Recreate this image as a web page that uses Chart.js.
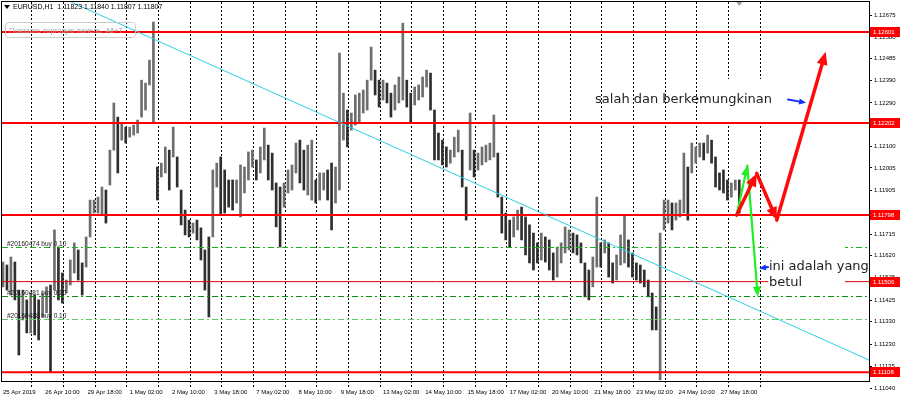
<!DOCTYPE html>
<html>
<head>
<meta charset="utf-8">
<script src="https://cdn.jsdelivr.net/npm/chart.js@4.4.0/dist/chart.umd.min.js"></script>
<style>
  html, body { margin: 0; padding: 0; background: #fff; }
  #myChart { display: block; }
</style>
</head>
<body>
<canvas id="myChart" width="900" height="406"></canvas>
<script>
// --------------------------- DATA ---------------------------

// EURUSD H1, one range per 3 hours starting 25 Apr 2019 02:00
const highs = [
  1.11592, 1.11579, 1.11614, 1.11592, 1.11469, 1.11469, 1.11426, 1.11456, 1.11447, 1.11426,
  1.11456, 1.11483, 1.11491, 1.11733, 1.11658, 1.11544, 1.11513, 1.11601, 1.11676, 1.11645,
  1.11588, 1.11702, 1.11864, 1.11864, 1.11877, 1.11921, 1.11908, 1.12083, 1.12290, 1.12228,
  1.12202, 1.12184, 1.12184, 1.12193, 1.12215, 1.12390, 1.12377, 1.12478, 1.12645, 1.12009,
  1.12026, 1.12097, 1.12083, 1.12184, 1.12053, 1.11908, 1.11820, 1.11776, 1.11763, 1.11776,
  1.11742, 1.11645, 1.11702, 1.11996, 1.12026, 1.12053, 1.11996, 1.11952, 1.11952, 1.11952,
  1.12018, 1.12009, 1.12075, 1.12083, 1.12040, 1.12097, 1.12180, 1.12105, 1.12070, 1.11939,
  1.11921, 1.11939, 1.11996, 1.12018, 1.12114, 1.12127, 1.12083, 1.12105, 1.12127, 1.11952,
  1.11983, 1.11983, 1.11996, 1.12026, 1.12009, 1.12509, 1.12333, 1.12259, 1.12246, 1.12325,
  1.12333, 1.12347, 1.12390, 1.12535, 1.12434, 1.12390, 1.12390, 1.12377, 1.12333, 1.12369,
  1.12404, 1.12640, 1.12390, 1.12333, 1.12360, 1.12369, 1.12404, 1.12434, 1.12421, 1.12259,
  1.12158, 1.12127, 1.12097, 1.12083, 1.12140, 1.12171, 1.12083, 1.11921, 1.12246, 1.12083,
  1.12070, 1.12097, 1.12105, 1.12114, 1.12237, 1.12070, 1.11877, 1.11807, 1.11776, 1.11790,
  1.11820, 1.11833, 1.11790, 1.11755, 1.11719, 1.11676, 1.11719, 1.11702, 1.11689, 1.11632,
  1.11658, 1.11676, 1.11746, 1.11733, 1.11719, 1.11711, 1.11676, 1.11588, 1.11557, 1.11614,
  1.11877, 1.11676, 1.11689, 1.11676, 1.11588, 1.11623, 1.11711, 1.11798, 1.11689, 1.11632,
  1.11588, 1.11579, 1.11557, 1.11513, 1.11456, 1.11395, 1.11719, 1.11864, 1.11864, 1.11851,
  1.11851, 1.11864, 1.12070, 1.12009, 1.12114, 1.12097, 1.12114, 1.12114, 1.12149, 1.12127,
  1.12053, 1.11983, 1.11996, 1.11952, 1.11939, 1.11952, 1.11952
];
const lows = [
  1.11483, 1.11469, 1.11447, 1.11426, 1.11184, 1.11338, 1.11281, 1.11281, 1.11272, 1.11250,
  1.11351, 1.11369, 1.11110, 1.11469, 1.11426, 1.11412, 1.11456, 1.11491, 1.11544, 1.11513,
  1.11447, 1.11570, 1.11702, 1.11807, 1.11807, 1.11798, 1.11763, 1.11930, 1.12083, 1.11983,
  1.12127, 1.12114, 1.12140, 1.12149, 1.12158, 1.12228, 1.12259, 1.12369, 1.12202, 1.11864,
  1.11965, 1.11983, 1.11908, 1.12053, 1.11921, 1.11755, 1.11711, 1.11702, 1.11719, 1.11689,
  1.11601, 1.11469, 1.11351, 1.11702, 1.11921, 1.11798, 1.11807, 1.11833, 1.11820, 1.11851,
  1.11790, 1.11895, 1.11952, 1.12009, 1.11952, 1.11983, 1.12040, 1.11952, 1.11908, 1.11746,
  1.11658, 1.11833, 1.11895, 1.11908, 1.11983, 1.11939, 1.11908, 1.11886, 1.11864, 1.11851,
  1.11864, 1.11908, 1.11864, 1.11733, 1.11851, 1.11908, 1.12127, 1.12097, 1.12171, 1.12193,
  1.12202, 1.12246, 1.12259, 1.12390, 1.12325, 1.12272, 1.12303, 1.12290, 1.12228, 1.12259,
  1.12290, 1.12303, 1.12272, 1.12202, 1.12281, 1.12303, 1.12316, 1.12360, 1.12259, 1.12040,
  1.12040, 1.12018, 1.12009, 1.12026, 1.12053, 1.12075, 1.11921, 1.11776, 1.11996, 1.11965,
  1.11996, 1.12018, 1.12031, 1.12040, 1.12053, 1.11877, 1.11719, 1.11689, 1.11658, 1.11702,
  1.11733, 1.11689, 1.11623, 1.11588, 1.11557, 1.11588, 1.11601, 1.11592, 1.11557, 1.11513,
  1.11526, 1.11588, 1.11632, 1.11645, 1.11632, 1.11623, 1.11588, 1.11439, 1.11426, 1.11483,
  1.11570, 1.11570, 1.11632, 1.11526, 1.11500, 1.11513, 1.11579, 1.11588, 1.11570, 1.11526,
  1.11513, 1.11500, 1.11483, 1.11439, 1.11294, 1.11294, 1.11075, 1.11733, 1.11763, 1.11733,
  1.11776, 1.11790, 1.11807, 1.11776, 1.11983, 1.12026, 1.12053, 1.12040, 1.12070, 1.12026,
  1.11921, 1.11908, 1.11895, 1.11864, 1.11877, 1.11908, 1.11807
];
const HOURS_PER_RANGE = 3;

// time axis labels, one every 32 hourly bars
const dateLabels = [
  '25 Apr 2019', '26 Apr 10:00', '29 Apr 18:00', '1 May 02:00', '2 May 10:00', '3 May 18:00',
  '7 May 02:00', '8 May 10:00', '9 May 18:00', '13 May 02:00', '14 May 10:00', '15 May 18:00',
  '17 May 02:00', '20 May 10:00', '21 May 18:00', '23 May 02:00', '24 May 10:00', '27 May 18:00'
];
const LABEL_EVERY = 32;

// price scale labels
const priceTicks = [
  1.12675, 1.12580, 1.12485, 1.12390, 1.12290, 1.12195, 1.12100, 1.12005, 1.11905,
  1.11810, 1.11715, 1.11620, 1.11525, 1.11425, 1.11330, 1.11230, 1.11135
];
const lowestPriceLabel = 1.11040;

// horizontal levels (red) and open orders (green)
const levels = [1.12601, 1.12202, 1.11798, 1.11506, 1.11108];
const orderPrices = [1.11658, 1.11443, 1.11342];
const orderTexts = ['#20160474 buy 0.10', '#20160481 buy 0.10', '#20160488 buy 0.10'];

// trend line, [bar, price]
const trend = [[48.5, 1.12741], [656.3, 1.11162]];

// drawn arrows, [bar, price]
const redPath = [[556.0, 1.11798], [571.2, 1.11981], [586.4, 1.11776], [623.5, 1.12515]];
const greenPath = [[556.0, 1.11798], [564.1, 1.12015], [572.0, 1.11440]];
const bluePointers = [
  [[594.9, 1.12305], [608.6, 1.12291]],
  [[579.8, 1.11570], [573.0, 1.11564]]
];

// text notes, [bar, price]
const notes = [
  { text: 'salah dan berkemungkinan', at: [448.7, 1.12303] },
  { text: 'ini adalah yang', at: [580.5, 1.11570] },
  { text: 'betul', at: [580.5, 1.11500] }
];
const noteBoxes = [
  [[527.5, 1.12395], [587.3, 1.12215]],
  [[579.8, 1.11676], [638.1, 1.11469]]
];

const header = 'EURUSD,H1  1.11823 1.11840 1.11807 1.11807';
const panelHint = 'Показать торговую панель, Alt+T';

// --------------------------- CHART RELATED ---------------------------

const SMALL = "'Liberation Sans', Arial, sans-serif";
const NOTE_FONT = "'DejaVu Sans', Verdana, sans-serif";

const rangeData = highs.map((h, i) => ({ x: i * HOURS_PER_RANGE, y: [lows[i], h] }));
const rangeColors = highs.map((h, i) => {
  if (i === 0) return '#6e6e6e';
  const mid = (h + lows[i]) / 2, prev = (highs[i - 1] + lows[i - 1]) / 2;
  return mid < prev ? '#2e2e2e' : '#6e6e6e';
});

const labelTicks = dateLabels.map((t, i) => i * LABEL_EVERY);
const gridTicks = [];
for (let k = 1; k <= 24; k++) gridTicks.push(k * 24 - 2.27);
const isGridValue = (v) => !labelTicks.includes(v);

function arrow(ctx, x1, y1, x2, y2, color, width, head) {
  const a = Math.atan2(y2 - y1, x2 - x1);
  const c = Math.cos(a), s = Math.sin(a);
  ctx.strokeStyle = color;
  ctx.fillStyle = color;
  ctx.lineWidth = width;
  ctx.lineCap = 'round';
  ctx.beginPath();
  ctx.moveTo(x1, y1);
  ctx.lineTo(x2 - c * head * 0.7, y2 - s * head * 0.7);
  ctx.stroke();
  ctx.beginPath();
  ctx.moveTo(x2, y2);
  ctx.lineTo(x2 - head * c + head * 0.42 * s, y2 - head * s - head * 0.42 * c);
  ctx.lineTo(x2 - head * c - head * 0.42 * s, y2 - head * s + head * 0.42 * c);
  ctx.closePath();
  ctx.fill();
}

const overlay = {
  id: 'overlay',
  afterDatasetsDraw(chart) {
    const { ctx, chartArea: a, scales: { x, y } } = chart;
    const px = (p) => [x.getPixelForValue(p[0]), y.getPixelForValue(p[1])];
    ctx.save();
    ctx.beginPath();
    ctx.rect(a.left, a.top, a.right - a.left, a.bottom - a.top);
    ctx.clip();

    // order lines
    const orderColors = ['#19b019', '#0c8a0c', '#5ccc5c'];
    orderPrices.forEach((p, i) => {
      const yy = Math.round(y.getPixelForValue(p)) + 0.5;
      ctx.strokeStyle = orderColors[i];
      ctx.lineWidth = 1;
      ctx.setLineDash([6, 3, 2, 3]);
      ctx.beginPath();
      ctx.moveTo(a.left, yy);
      ctx.lineTo(a.right, yy);
      ctx.stroke();
      ctx.setLineDash([]);
      ctx.fillStyle = '#1a1a1a';
      ctx.font = '6.5px ' + SMALL;
      ctx.textBaseline = 'bottom';
      ctx.textAlign = 'left';
      ctx.fillText(orderTexts[i], 7, yy);
    });

    // levels
    levels.forEach((p) => {
      const yy = y.getPixelForValue(p);
      ctx.strokeStyle = p === 1.11506 ? '#e00000' : '#ff0000';
      ctx.lineWidth = p === 1.11506 ? 1 : 2;
      ctx.beginPath();
      ctx.moveTo(a.left, yy);
      ctx.lineTo(a.right, yy);
      ctx.stroke();
    });

    // trend line
    const t0 = px(trend[0]), t1 = px(trend[1]);
    ctx.strokeStyle = '#2ccfe0';
    ctx.lineWidth = 1;
    ctx.beginPath();
    ctx.moveTo(t0[0], t0[1]);
    ctx.lineTo(t1[0], t1[1]);
    ctx.stroke();

    // white boxes behind notes
    ctx.fillStyle = '#fff';
    noteBoxes.forEach((b) => {
      const p0 = px(b[0]), p1 = px(b[1]);
      ctx.fillRect(p0[0], p0[1], p1[0] - p0[0], p1[1] - p0[1]);
    });

    // arrows
    for (let i = 1; i < greenPath.length; i++) {
      const p0 = px(greenPath[i - 1]), p1 = px(greenPath[i]);
      arrow(ctx, p0[0], p0[1], p1[0], p1[1], '#22ee22', 2.2, 10);
    }
    for (let i = 1; i < redPath.length; i++) {
      const p0 = px(redPath[i - 1]), p1 = px(redPath[i]);
      arrow(ctx, p0[0], p0[1], p1[0], p1[1], '#ff0a0a', 3.5, 13);
    }
    bluePointers.forEach((b) => {
      const p0 = px(b[0]), p1 = px(b[1]);
      arrow(ctx, p0[0], p0[1], p1[0], p1[1], '#1030ff', 2, 7);
    });

    // notes
    ctx.fillStyle = '#222';
    ctx.font = '13px ' + NOTE_FONT;
    ctx.textBaseline = 'middle';
    ctx.textAlign = 'left';
    notes.forEach((n) => {
      const p = px(n.at);
      ctx.fillText(n.text, p[0], p[1]);
    });
    ctx.restore();
  },
  afterDraw(chart) {
    const { ctx, chartArea: a, scales: { x, y } } = chart;
    ctx.save();
    // frame
    ctx.strokeStyle = '#000';
    ctx.lineWidth = 1;
    ctx.strokeRect(Math.round(a.left) - 0.5, Math.round(a.top) - 0.5,
      Math.round(a.right - a.left) + 1, Math.round(a.bottom - a.top) + 1);

    // level labels on the price scale
    ctx.font = '6px ' + SMALL;
    ctx.textBaseline = 'middle';
    ctx.textAlign = 'left';
    levels.forEach((p) => {
      const yy = Math.round(y.getPixelForValue(p));
      ctx.fillStyle = '#ff0000';
      ctx.fillRect(a.right + 1, yy - 5, chart.width - a.right - 1, 10);
      ctx.fillStyle = '#fff';
      ctx.fillText(p.toFixed(5), a.right + 4, yy + 0.5);
    });

    // lowest price label sits below the plot
    const yl = y.getPixelForValue(lowestPriceLabel);
    ctx.fillStyle = '#000';
    ctx.fillRect(a.right + 1, Math.round(yl), 2, 1);
    ctx.fillText(lowestPriceLabel.toFixed(5), a.right + 5, yl + 0.5);

    // header
    ctx.beginPath();
    ctx.moveTo(4, 5); ctx.lineTo(10, 5); ctx.lineTo(7, 9); ctx.closePath();
    ctx.fill();
    ctx.font = '7px ' + SMALL;
    ctx.textBaseline = 'middle';
    ctx.fillText(header, 13, 7.5);

    // shift marker
    const sx = x.getPixelForValue((highs.length - 1) * HOURS_PER_RANGE);
    ctx.fillStyle = '#a0a0a0';
    ctx.beginPath();
    ctx.moveTo(sx - 3, 2); ctx.lineTo(sx + 3, 2); ctx.lineTo(sx, 6); ctx.closePath();
    ctx.fill();

    // faded trade panel hint
    ctx.strokeStyle = '#cccccc';
    ctx.lineWidth = 1;
    ctx.beginPath();
    ctx.roundRect(5.5, 22.5, 130, 15, 3);
    ctx.stroke();
    ctx.fillStyle = '#a6a6a6';
    ctx.font = '7.5px ' + SMALL;
    ctx.fillText(panelHint, 9, 30.5);
    ctx.restore();
  }
};

let ctx = document.querySelector('#myChart');
let myChart = new Chart(ctx, {
  type: 'bar',
  data: {
    datasets: [{
      data: rangeData,
      backgroundColor: rangeColors,
      barThickness: 2,
      grouped: false
    }]
  },
  options: {
    responsive: false,
    animation: false,
    devicePixelRatio: 1,
    layout: { padding: { left: 2, top: 2, right: 0, bottom: 0 } },
    plugins: { legend: { display: false }, tooltip: { enabled: false } },
    scales: {
      x: {
        type: 'linear',
        offset: false,
        min: -0.76,
        max: 656.3,
        afterBuildTicks: (s) => {
          s.ticks = labelTicks.concat(gridTicks).sort((p, q) => p - q).map((v) => ({ value: v }));
        },
        afterFit: (s) => { s.height = 25; s.paddingLeft = 0; s.paddingRight = 0; },
        ticks: {
          autoSkip: false,
          maxRotation: 0,
          align: 'start',
          padding: 2,
          color: '#000',
          font: { family: SMALL, size: 6 },
          callback: (v) => {
            const i = labelTicks.indexOf(v);
            return i >= 0 ? dateLabels[i] : '';
          }
        },
        grid: {
          offset: false,
          drawOnChartArea: true,
          drawTicks: true,
          tickLength: 6,
          lineWidth: 1,
          color: (c) => (c.tick && isGridValue(c.tick.value) ? '#000' : 'rgba(0,0,0,0)'),
          tickColor: (c) => (c.tick && isGridValue(c.tick.value) ? '#000' : 'rgba(0,0,0,0)'),
          tickBorderDash: [2, 2]
        },
        border: { display: false, dash: [2, 2] }
      },
      y: {
        position: 'right',
        min: 1.11070,
        max: 1.12733,
        afterBuildTicks: (s) => {
          s.ticks = priceTicks.slice().reverse().map((v) => ({ value: v }));
        },
        afterFit: (s) => { s.width = 31; s.paddingTop = 0; s.paddingBottom = 0; },
        ticks: {
          color: '#000',
          padding: 2,
          font: { family: SMALL, size: 6 },
          callback: (v) => Number(v).toFixed(5)
        },
        grid: { drawOnChartArea: false, drawTicks: true, tickLength: 3, color: '#000' },
        border: { display: false }
      }
    }
  },
  plugins: [overlay]
});
</script>
</body>
</html>
